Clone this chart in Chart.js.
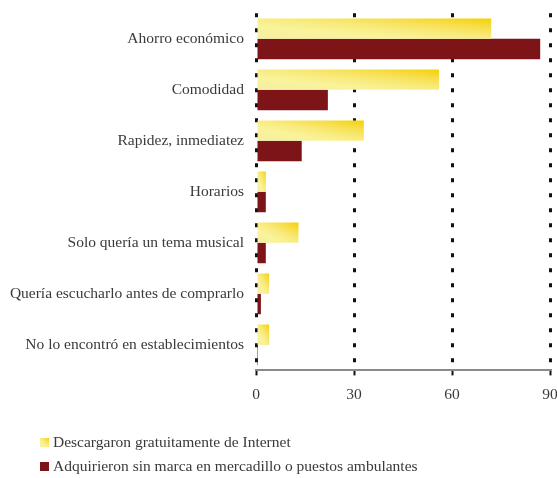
<!DOCTYPE html>
<html>
<head>
<meta charset="utf-8">
<script src="https://cdn.jsdelivr.net/npm/chart.js@4"></script>
<style>
  html, body { margin: 0; padding: 0; background: #fff; }
  #wrap { width: 557px; height: 478px; position: relative; }
</style>
</head>
<body>
<div id="wrap"><canvas id="chart"></canvas></div>
<script>
var categories = [
    'Ahorro económico',
    'Comodidad',
    'Rapidez, inmediatez',
    'Horarios',
    'Solo quería un tema musical',
    'Quería escucharlo antes de comprarlo',
    'No lo encontró en establecimientos'
];
var descargaron = [72, 56, 33, 3, 13, 4, 4];
var adquirieron = [87, 22, 14, 3, 3, 1.5, 0.6];
var xTicks = [0, 30, 60, 90];

var serifFont = "'Liberation Serif', 'DejaVu Serif', serif";
var textColor = '#3a3a3a';
var darkRed = '#7c1418';

// diagonal gradient scaled to the box (bottom-left pale -> top-right gold)
function yellowGradient(ctx, x0, y0, x1, y1) {
    var w = x1 - x0, h = y1 - y0;
    var k = 2 * w * h / (w * w + h * h || 1);
    var g = ctx.createLinearGradient(x0, y1, x0 + h * k, y1 - w * k);
    g.addColorStop(0, '#f4eea2');
    g.addColorStop(0.3, '#f9f39c');
    g.addColorStop(0.55, '#f8ea7a');
    g.addColorStop(0.8, '#f6dc44');
    g.addColorStop(1, '#f5d000');
    return g;
}

var gradientBars = {
    id: 'gradientBars',
    beforeDatasetsDraw: function (chart) {
        var meta = chart.getDatasetMeta(0);
        meta.data.forEach(function (el) {
            var p = el.getProps(['x', 'y', 'base', 'height'], true);
            var g = yellowGradient(chart.ctx,
                Math.min(p.base, p.x), p.y - p.height / 2, Math.max(p.base, p.x), p.y + p.height / 2);
            el.options = Object.assign({}, el.options, { backgroundColor: g });
        });
    }
};

// legend at the bottom left, one row per series
var sideLegend = {
    id: 'sideLegend',
    afterDraw: function (chart) {
        var ctx = chart.ctx;
        ctx.save();
        ctx.font = '15.5px ' + serifFont;
        ctx.textBaseline = 'middle';
        chart.data.datasets.forEach(function (ds, i) {
            var y = 443 + i * 24;
            if (i === 0) {
                ctx.fillStyle = yellowGradient(ctx, 40, y - 5, 49, y + 4);
            } else {
                ctx.fillStyle = darkRed;
            }
            ctx.fillRect(40, y - 5, 9, 9);
            ctx.fillStyle = textColor;
            ctx.fillText(ds.label, 53, y);
        });
        ctx.restore();
    }
};

var ctx = document.getElementById('chart').getContext('2d');
var chart = new Chart(ctx, {
    type: 'bar',
    data: {
        labels: categories,
        datasets: [
            {
                label: 'Descargaron gratuitamente de Internet',
                data: descargaron,
                backgroundColor: '#f7ea78',
                borderWidth: 0
            },
            {
                label: 'Adquirieron sin marca en mercadillo o puestos ambulantes',
                data: adquirieron,
                backgroundColor: darkRed,
                borderWidth: 0
            }
        ]
    },
    options: {
        indexAxis: 'y',
        responsive: true,
        maintainAspectRatio: false,
        animation: false,
        categoryPercentage: 0.8,
        barPercentage: 1.0,
        layout: { padding: { top: 11, right: 7, left: 0, bottom: 64 } },
        plugins: {
            legend: { display: false },
            tooltip: { enabled: false }
        },
        scales: {
            x: {
                min: 0,
                max: 90,
                afterBuildTicks: function (scale) {
                    scale.ticks = xTicks.map(function (v) { return { value: v }; });
                },
                afterFit: function (scale) { scale.paddingRight = 0; },
                grid: {
                    color: '#111',
                    lineWidth: 3,
                    drawTicks: true,
                    tickLength: 5,
                    tickColor: '#111',
                    tickWidth: 2,
                    tickBorderDash: []
                },
                border: { display: true, color: '#8a8a8a', width: 2, dash: [4, 11] },
                ticks: {
                    color: textColor,
                    font: { family: serifFont, size: 15.5 },
                    padding: 10
                }
            },
            y: {
                grid: { display: false },
                border: { display: false },
                afterFit: function (scale) { scale.width = 256; },
                ticks: {
                    color: textColor,
                    font: { family: serifFont, size: 15.5 },
                    padding: 4
                }
            }
        }
    },
    plugins: [gradientBars, sideLegend]
});
</script>
</body>
</html>
